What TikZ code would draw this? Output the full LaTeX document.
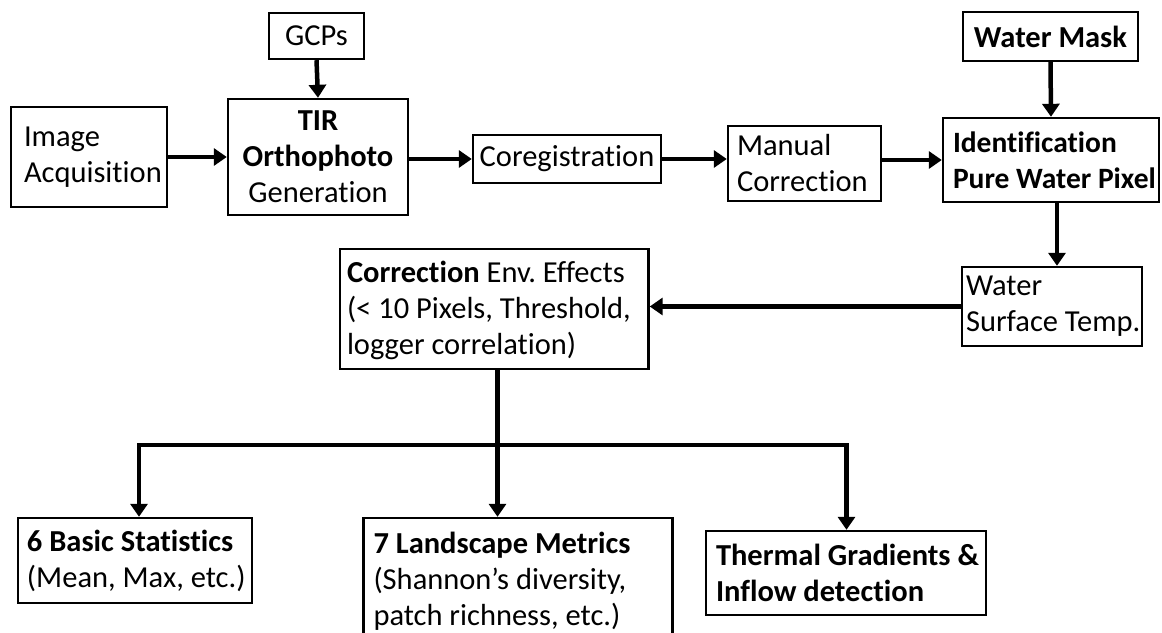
\documentclass[tikz,border=0pt]{standalone}
\usepackage{fontspec}
\setmainfont{Carlito}[Ligatures=NoCommon]
\usetikzlibrary{arrows.meta}
\frenchspacing
\begin{document}
\begin{tikzpicture}[x=1pt,y=-1pt,
  box/.style={draw=black, line width=2.4pt, inner sep=0pt, align=center, font=\fontsize{30.5}{36}\selectfont},
  txt/.style={inner sep=0pt, anchor=west, align=left, font=\fontsize{30.5}{36}\selectfont},
  arr/.style={line width=4.5pt, -{Triangle[length=13pt,width=17pt]}}]
\useasboundingbox (0,0) rectangle (1162,632);
\fill[white] (0,0) rectangle (1162,632);
% boxes
\node[box, minimum width=156pt, minimum height=100pt] (acq) at (89,157) {};
\node[txt] (acqT) at ([xshift=14pt]acq.west) {Image\\Acquisition};
\node[box, minimum width=95pt, minimum height=46pt] (gcp) at (316.5,36) {GCPs};
\node[box, minimum width=180pt, minimum height=116pt] (tir) at (318,157) {\textbf{TIR}\\\textbf{Orthophoto}\\Generation};
\node[box, minimum width=188pt, minimum height=48pt] (coreg) at (567,159) {Coregistration};
\node[box, minimum width=153pt, minimum height=75pt] (man) at (804.5,163.5) {};
\node[txt] (manT) at ([xshift=10pt]man.west) {Manual\\Correction};
\node[box, minimum width=175pt, minimum height=49pt] (mask) at (1050.5,36.5) {\textbf{Water Mask}};
\node[box, minimum width=216pt, minimum height=84pt] (ident) at (1051,160) {};
\node[txt, font=\fontsize{29.5}{36}\selectfont] (identT) at ([xshift=11pt]ident.west) {\textbf{Identification}\\\textbf{Pure Water Pixel}};
\node[box, minimum width=180pt, minimum height=79pt] (wst) at (1052,306.5) {};
\node[txt] (wstT) at ([xshift=5pt]wst.west) {Water\\Surface Temp.};
\node[box, minimum width=308.5pt, minimum height=120pt] (corr) at (494.25,309) {};
\node[txt] (corrT) at ([xshift=8pt,yshift=-1pt]corr.west) {\textbf{Correction} Env. Effects\\(< 10 Pixels, Threshold,\\logger correlation)};
\node[box, minimum width=234pt, minimum height=85pt] (basic) at (135,560.5) {};
\node[txt] (basicT) at ([xshift=10pt]basic.west) {\textbf{6 Basic Statistics}\\(Mean, Max, etc.)};
\node[box, minimum width=309pt, minimum height=118pt] (land) at (518,577) {};
\node[txt] (landT) at ([xshift=11pt,yshift=-4pt]land.west) {\textbf{7 Landscape Metrics}\\(Shannon’s diversity,\\patch richness, etc.)};
\node[box, minimum width=280pt, minimum height=84pt] (therm) at (846,573) {};
\node[txt] (thermT) at ([xshift=11pt]therm.west) {\textbf{Thermal Gradients \&}\\\textbf{Inflow detection}};
% branch coordinates
\coordinate (br) at (497.5,445);
\coordinate (bl) at (139,445);
\coordinate (tr) at (846.5,445);
\coordinate (iw) at (1057,202);
% connectors
\draw[arr] (acq.east) -- (tir.west);
\draw[arr] (gcp.south) -- (tir.north);
\draw[arr] (tir.east |- coreg.west) -- (coreg.west);
\draw[arr] (coreg.east) -- (coreg.east -| man.west);
\draw[arr] (ident.west -| man.east) -- (ident.west);
\draw[arr] (mask.south) -- (ident.north);
\draw[arr] (ident.south -| iw) -- (iw |- wst.north);
\draw[arr] (wst.west) -- (wst.west -| corr.east);
\draw[arr] (corr.south -| br) -- (br |- land.north);
\draw[arr] (br) -- (bl) -- (bl |- basic.north);
\draw[arr] (br) -- (tr) -- (tr |- therm.north);
\end{tikzpicture}
\end{document}
